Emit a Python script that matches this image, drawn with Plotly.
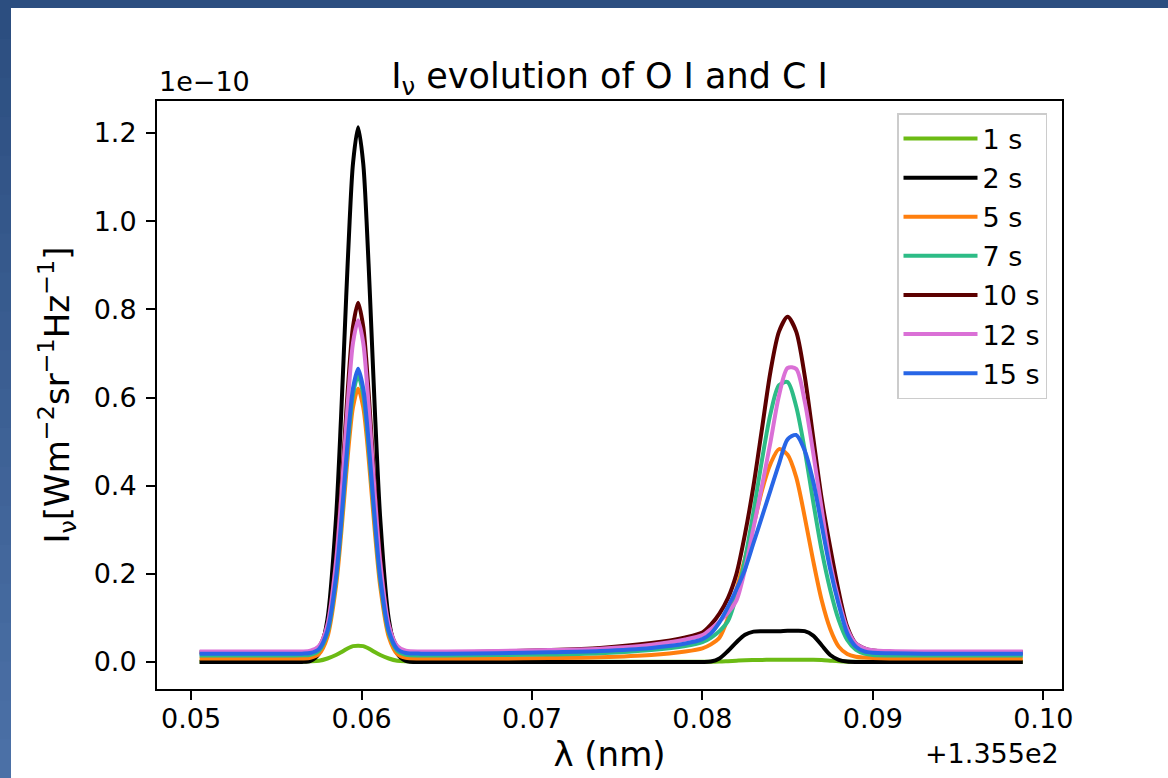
import plotly.graph_objects as go

# ---------------- data ----------------
# wavelength, as offset from 135.5 nm
wavelength_offset = [
    0.0505, 0.0530, 0.0555, 0.0565, 0.0570, 0.0575, 0.0580, 0.0585, 0.0588, 0.0591,
    0.0593, 0.0595, 0.0598, 0.0601, 0.0603, 0.0605, 0.0608, 0.0611, 0.0616, 0.0621,
    0.0626, 0.0635, 0.0650, 0.0680, 0.0710, 0.0740, 0.0770, 0.0790, 0.0800,
    0.0805, 0.0810, 0.0815, 0.0820, 0.0825, 0.0830, 0.0835, 0.0840, 0.0845, 0.0850,
    0.0855, 0.0860, 0.0865, 0.0870, 0.0875, 0.0880, 0.0885, 0.0890, 0.0895, 0.0900,
    0.0910, 0.0930, 0.0960, 0.0988,
]

# intensities in units of 1e-10 W m^-2 sr^-1 Hz^-1
I_1s = [
    0.0005, 0.0005, 0.0005, 0.0008, 0.0015, 0.003, 0.008, 0.016, 0.022, 0.029,
    0.033, 0.036, 0.037, 0.036, 0.033, 0.029, 0.022, 0.016, 0.008, 0.003,
    0.0015, 0.0008, 0.0005, 0.0005, 0.0005, 0.0005, 0.0005, 0.0005, 0.0005,
    0.0008, 0.001, 0.002, 0.003, 0.004, 0.0045, 0.0048, 0.005, 0.005, 0.005,
    0.005, 0.005, 0.005, 0.0045, 0.003, 0.0015, 0.0008, 0.0006, 0.0005, 0.0005,
    0.0005, 0.0005, 0.0005, 0.0005,
]
I_2s = [
    0.0, 0.0, 0.0, 0.0002, 0.0027, 0.019, 0.097, 0.324, 0.556, 0.827,
    0.998, 1.131, 1.213, 1.131, 0.998, 0.827, 0.556, 0.324, 0.097, 0.019,
    0.0027, 0.0, 0.0, 0.0, 0.0, 0.0, 0.0, 0.0, 0.0,
    0.001, 0.008, 0.025, 0.045, 0.062, 0.069, 0.070, 0.070, 0.070, 0.071,
    0.071, 0.070, 0.060, 0.038, 0.016, 0.005, 0.001, 0.0, 0.0, 0.0,
    0.0, 0.0, 0.0, 0.0,
]
I_5s = [
    0.008, 0.008, 0.008, 0.008, 0.0093, 0.0178, 0.057, 0.171, 0.288, 0.425,
    0.512, 0.578, 0.620, 0.578, 0.512, 0.425, 0.288, 0.171, 0.057, 0.0178,
    0.0093, 0.008, 0.008, 0.008, 0.009, 0.011, 0.016, 0.024, 0.031,
    0.040, 0.055, 0.100, 0.165, 0.235, 0.310, 0.390, 0.450, 0.483, 0.470,
    0.420, 0.330, 0.230, 0.140, 0.075, 0.035, 0.018, 0.012, 0.010, 0.009,
    0.008, 0.008, 0.008, 0.008,
]
I_7s = [
    0.015, 0.015, 0.015, 0.0151, 0.0164, 0.0252, 0.0658, 0.1846, 0.3058, 0.448,
    0.5376, 0.6068, 0.650, 0.6068, 0.5376, 0.448, 0.3058, 0.1846, 0.0658, 0.0252,
    0.0164, 0.015, 0.015, 0.016, 0.017, 0.020, 0.027, 0.036, 0.045,
    0.055, 0.070, 0.093, 0.150, 0.233, 0.341, 0.459, 0.564, 0.628, 0.635,
    0.580, 0.482, 0.364, 0.253, 0.164, 0.095, 0.050, 0.028, 0.019, 0.016,
    0.015, 0.015, 0.015, 0.015,
]
I_10s = [
    0.022, 0.022, 0.022, 0.022, 0.0237, 0.0347, 0.0854, 0.234, 0.385, 0.563,
    0.675, 0.761, 0.815, 0.761, 0.675, 0.563, 0.385, 0.234, 0.0854, 0.0347,
    0.0237, 0.022, 0.022, 0.024, 0.027, 0.032, 0.043, 0.056, 0.067,
    0.085, 0.110, 0.145, 0.200, 0.290, 0.400, 0.530, 0.660, 0.750, 0.783,
    0.750, 0.650, 0.510, 0.370, 0.260, 0.160, 0.080, 0.042, 0.031, 0.026,
    0.023, 0.022, 0.022, 0.022,
]
I_12s = [
    0.024, 0.024, 0.024, 0.024, 0.0257, 0.036, 0.084, 0.225, 0.368, 0.536,
    0.642, 0.724, 0.775, 0.724, 0.642, 0.536, 0.368, 0.225, 0.084, 0.036,
    0.0257, 0.024, 0.024, 0.025, 0.027, 0.030, 0.039, 0.051, 0.061,
    0.075, 0.092, 0.112, 0.140, 0.210, 0.305, 0.400, 0.500, 0.605, 0.667,
    0.665, 0.592, 0.475, 0.347, 0.225, 0.140, 0.075, 0.042, 0.031, 0.027,
    0.025, 0.024, 0.024, 0.024,
]
I_15s = [
    0.019, 0.019, 0.019, 0.019, 0.0204, 0.0293, 0.0707, 0.1915, 0.315, 0.460,
    0.551, 0.621, 0.665, 0.621, 0.551, 0.460, 0.315, 0.1915, 0.0707, 0.0293,
    0.0204, 0.019, 0.019, 0.020, 0.022, 0.025, 0.032, 0.042, 0.052,
    0.065, 0.090, 0.125, 0.165, 0.210, 0.270, 0.330, 0.390, 0.450, 0.505,
    0.515, 0.480, 0.410, 0.310, 0.210, 0.130, 0.065, 0.035, 0.024, 0.021,
    0.020, 0.019, 0.019, 0.019,
]

series_labels = ["1 s", "2 s", "5 s", "7 s", "10 s", "12 s", "15 s"]
series_values = [I_1s, I_2s, I_5s, I_7s, I_10s, I_12s, I_15s]
series_colors = ["#6cbb14", "#000000", "#ff7f0e", "#2dbc86", "#5c0000", "#da70d6", "#2866e6"]

x_tick_values = [0.05, 0.06, 0.07, 0.08, 0.09, 0.10]
x_tick_labels = ["0.05", "0.06", "0.07", "0.08", "0.09", "0.10"]
y_tick_values = [0.0, 0.2, 0.4, 0.6, 0.8, 1.0, 1.2]
y_tick_labels = ["0.0", "0.2", "0.4", "0.6", "0.8", "1.0", "1.2"]

# ---------------- figure ----------------
W, H = 1168, 778
L, R, T, B = 157, 1062, 101, 689
FONT = "DejaVu Sans"
SMALL = 27


def px_x(px):
    return (px - L) / (R - L)


def px_y(py):
    return (B - py) / (B - T)


fig = go.Figure()
for i, (lab, vals, col) in enumerate(zip(series_labels, series_values, series_colors)):
    fig.add_trace(go.Scatter(
        x=wavelength_offset, y=vals, name=lab, mode="lines",
        line=dict(color=col, width=4, shape="spline", smoothing=0.8),
        legendgroup=f"g{i}",
    ))

# background: blue frame with slight vertical gradient, white page
shapes = []
top_rgb = (44, 78, 128)
bot_rgb = (75, 112, 166)
nseg = 20
for k in range(nseg):
    t = k / (nseg - 1)
    c = tuple(int(round(top_rgb[j] + (bot_rgb[j] - top_rgb[j]) * t)) for j in range(3))
    y0 = k * H / nseg
    y1 = (k + 1) * H / nseg + 1
    shapes.append(dict(type="rect", xref="paper", yref="paper",
                       x0=px_x(-2), x1=px_x(11), y0=px_y(y1), y1=px_y(y0),
                       fillcolor="rgb(%d,%d,%d)" % c, line=dict(width=0), layer="below"))
shapes.append(dict(type="rect", xref="paper", yref="paper",
                   x0=px_x(-2), x1=px_x(W + 2), y0=px_y(8), y1=px_y(-2),
                   fillcolor="rgb(44,78,128)", line=dict(width=0), layer="below"))
shapes.append(dict(type="rect", xref="paper", yref="paper",
                   x0=px_x(11), x1=px_x(W + 2), y0=px_y(H + 2), y1=px_y(8),
                   fillcolor="white", line=dict(width=0), layer="below"))

axis_common = dict(
    showline=True, linecolor="black", linewidth=2, mirror=True,
    ticks="outside", ticklen=9, tickwidth=2, tickcolor="black",
    showgrid=False, zeroline=False,
    tickfont=dict(family=FONT, size=SMALL, color="black"),
)

fig.update_layout(
    width=W, height=H,
    margin=dict(l=L, r=W - R, t=T, b=H - B, autoexpand=False),
    paper_bgcolor="rgb(47,82,134)", plot_bgcolor="white",
    shapes=shapes,
    title=dict(text="I<sub>ν</sub> evolution of O I and C I",
               x=px_x((L + R) / 2), xref="paper", xanchor="center",
               y=1 - 88 / H, yref="container", yanchor="bottom",
               font=dict(family=FONT, size=35, color="black")),
    xaxis=dict(range=[0.0480, 0.1011], tickvals=x_tick_values, ticktext=x_tick_labels,
               title=dict(text="λ (nm)", font=dict(family=FONT, size=34, color="black"), standoff=4),
               ticklabelstandoff=-4,
               **axis_common),
    yaxis=dict(range=[-0.0612, 1.2726], tickvals=y_tick_values, ticktext=y_tick_labels,
               title=dict(text="I<sub>ν</sub>[Wm<sup>−2</sup>sr<sup>−1</sup>Hz<sup>−1</sup>]",
                          font=dict(family=FONT, size=34, color="black"), standoff=14),
               ticklabelstandoff=4,
               **axis_common),
    legend=dict(x=px_x(1047), y=px_y(113), xanchor="right", yanchor="top",
                bgcolor="rgba(255,255,255,0.8)", bordercolor="#cccccc", borderwidth=1.5,
                font=dict(family=FONT, size=SMALL, color="black"),
                tracegroupgap=1, itemwidth=74),
    annotations=[
        dict(text="1e−10", xref="paper", yref="paper", x=px_x(157), y=px_y(99),
             xanchor="left", yanchor="bottom", showarrow=False,
             font=dict(family=FONT, size=SMALL, color="black")),
        dict(text="+1.355e2", xref="paper", yref="paper", x=px_x(1061), y=px_y(736),
             xanchor="right", yanchor="top", showarrow=False,
             font=dict(family=FONT, size=SMALL, color="black")),
    ],
)

fig.write_html("out.html", config={"displayModeBar": False},
               post_script="document.body.style.margin='0px';document.body.style.overflow='hidden';")
